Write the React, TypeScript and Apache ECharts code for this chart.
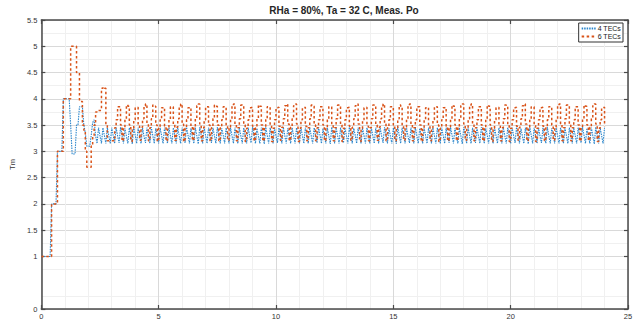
import React, { useEffect, useRef } from "react";
import * as echarts from "echarts";

// ---- data ----
const chartTitle = "RHa = 80%, Ta = 32 C, Meas. Po";
const yAxisName = "Tm";
const seriesNames = ["4 TECs", "6 TECs"];
const xTicks = [0, 5, 10, 15, 20, 25];
const yTicks = [0, 1, 1.5, 2, 2.5, 3, 3.5, 4, 4.5, 5, 5.5];
const sampleStep = 0.0625; // time between samples

// 4 TECs: start-up (t = 0 .. 2.3125)
const tec4Transient = [
  1, 1, 1, 1, 1, 1, 1, 2, 2, 2, 2, 3, 3, 3, 3, 4,
  4, 4, 4, 4, 3.5, 2.95, 2.95, 2.95, 3.5, 3.5, 3.85, 3.85, 3.85, 3.5, 3.35, 3.1,
  3.1, 3.1, 3.3, 3.55, 3.6, 3.3,
];
// 4 TECs: steady oscillation (from t = 2.375)
const tec4Oscillation = [
  3.15, 3.45, 3.3, 3.15, 3.45, 3.3, 3.15, 3.45, 3.3, 3.15, 3.45, 3.3, 3.15, 3.45, 3.3,
  3.16, 3.46, 3.31, 3.15, 3.44, 3.29, 3.15, 3.45, 3.3, 3.14, 3.46, 3.31, 3.15, 3.45, 3.3,
  3.15, 3.45, 3.29, 3.16, 3.45, 3.3, 3.15, 3.46, 3.3, 3.15, 3.44, 3.31, 3.15, 3.45, 3.3,
  3.15, 3.45, 3.3, 3.15, 3.45, 3.3, 3.15, 3.45, 3.3, 3.15, 3.45, 3.3, 3.15, 3.45, 3.3,
  3.16, 3.46, 3.31, 3.15, 3.44, 3.29, 3.15, 3.45, 3.3, 3.14, 3.46, 3.31, 3.15, 3.45, 3.3,
  3.15, 3.45, 3.29, 3.16, 3.45, 3.3, 3.15, 3.46, 3.3, 3.15, 3.44, 3.31, 3.15, 3.45, 3.3,
  3.15, 3.45, 3.3, 3.15, 3.45, 3.3, 3.15, 3.45, 3.3, 3.15, 3.45, 3.3, 3.15, 3.45, 3.3,
  3.16, 3.46, 3.31, 3.15, 3.44, 3.29, 3.15, 3.45, 3.3, 3.14, 3.46, 3.31, 3.15, 3.45, 3.3,
  3.15, 3.45, 3.29, 3.16, 3.45, 3.3, 3.15, 3.46, 3.3, 3.15, 3.44, 3.31, 3.15, 3.45, 3.3,
  3.15, 3.45, 3.3, 3.15, 3.45, 3.3, 3.15, 3.45, 3.3, 3.15, 3.45, 3.3, 3.15, 3.45, 3.3,
  3.16, 3.46, 3.31, 3.15, 3.44, 3.29, 3.15, 3.45, 3.3, 3.14, 3.46, 3.31, 3.15, 3.45, 3.3,
  3.15, 3.45, 3.29, 3.16, 3.45, 3.3, 3.15, 3.46, 3.3, 3.15, 3.44, 3.31, 3.15, 3.45, 3.3,
  3.15, 3.45, 3.3, 3.15, 3.45, 3.3, 3.15, 3.45, 3.3, 3.15, 3.45, 3.3, 3.15, 3.45, 3.3,
  3.16, 3.46, 3.31, 3.15, 3.44, 3.29, 3.15, 3.45, 3.3, 3.14, 3.46, 3.31, 3.15, 3.45, 3.3,
  3.15, 3.45, 3.29, 3.16, 3.45, 3.3, 3.15, 3.46, 3.3, 3.15, 3.44, 3.31, 3.15, 3.45, 3.3,
  3.15, 3.45, 3.3, 3.15, 3.45, 3.3, 3.15, 3.45, 3.3, 3.15, 3.45, 3.3, 3.15, 3.45, 3.3,
  3.16, 3.46, 3.31, 3.15, 3.44, 3.29, 3.15, 3.45, 3.3, 3.14, 3.46, 3.31, 3.15, 3.45, 3.3,
  3.15, 3.45, 3.29, 3.16, 3.45, 3.3, 3.15, 3.46, 3.3, 3.15, 3.44, 3.31, 3.15, 3.45, 3.3,
  3.15, 3.45, 3.3, 3.15, 3.45, 3.3, 3.15, 3.45, 3.3, 3.15, 3.45, 3.3, 3.15, 3.45, 3.3,
  3.16, 3.46, 3.31, 3.15, 3.44, 3.29, 3.15, 3.45, 3.3, 3.14, 3.46, 3.31, 3.15, 3.45, 3.3,
  3.15, 3.45, 3.29, 3.16, 3.45, 3.3, 3.15, 3.46, 3.3, 3.15, 3.44, 3.31, 3.15, 3.45, 3.3,
  3.15, 3.45, 3.3, 3.15, 3.45, 3.3, 3.15, 3.45, 3.3, 3.15, 3.45, 3.3, 3.15, 3.45, 3.3,
  3.16, 3.46, 3.31, 3.15, 3.44, 3.29, 3.15, 3.45, 3.3, 3.14, 3.46, 3.31, 3.15, 3.45, 3.3,
  3.15, 3.45,
];

// 6 TECs: start-up (t = 0 .. 3.0)
const tec6Transient = [
  1, 1, 1, 1, 1, 1, 1, 2, 2, 2, 2, 3, 3, 3, 3, 4,
  4, 4, 4, 4, 5, 5, 5, 5, 4.5, 4.5, 3.95, 3.95, 3.5, 3.4, 3.0, 2.7,
  2.7, 2.7, 3.1, 3.3, 3.5, 3.75, 3.78, 3.78, 3.78, 4.2, 4.22, 4.2, 3.5, 3.2, 3.2, 3.2,
  3.2,
];
// 6 TECs: steady oscillation (from t = 3.0625)
const tec6Oscillation = [
  3.2, 3.45, 3.6, 3.85, 3.85, 3.5, 3.2, 3.45, 3.62, 3.88, 3.86, 3.5, 3.19, 3.44, 3.6, 3.83, 3.84, 3.48, 3.21, 3.46, 3.62, 3.87, 3.9, 3.52,
  3.2, 3.45, 3.62, 3.88, 3.86, 3.5, 3.19, 3.44, 3.6, 3.83, 3.84, 3.48, 3.2, 3.45, 3.6, 3.85, 3.85, 3.5, 3.21, 3.46, 3.62, 3.87, 3.9, 3.52,
  3.19, 3.44, 3.6, 3.83, 3.84, 3.48, 3.21, 3.46, 3.62, 3.87, 3.9, 3.52, 3.2, 3.45, 3.6, 3.85, 3.85, 3.5, 3.2, 3.45, 3.62, 3.88, 3.86, 3.5,
  3.2, 3.45, 3.6, 3.85, 3.85, 3.5, 3.21, 3.46, 3.62, 3.87, 3.9, 3.52, 3.2, 3.45, 3.62, 3.88, 3.86, 3.5, 3.19, 3.44, 3.6, 3.83, 3.84, 3.48,
  3.2, 3.45, 3.62, 3.88, 3.86, 3.5, 3.2, 3.45, 3.6, 3.85, 3.85, 3.5, 3.19, 3.44, 3.6, 3.83, 3.84, 3.48, 3.21, 3.46, 3.62, 3.87, 3.9, 3.52,
  3.21, 3.46, 3.62, 3.87, 3.9, 3.52, 3.19, 3.44, 3.6, 3.83, 3.84, 3.48, 3.2, 3.45, 3.62, 3.88, 3.86, 3.5, 3.2, 3.45, 3.6, 3.85, 3.85, 3.5,
  3.2, 3.45, 3.6, 3.85, 3.85, 3.5, 3.2, 3.45, 3.62, 3.88, 3.86, 3.5, 3.19, 3.44, 3.6, 3.83, 3.84, 3.48, 3.21, 3.46, 3.62, 3.87, 3.9, 3.52,
  3.19, 3.44, 3.6, 3.83, 3.84, 3.48, 3.2, 3.45, 3.62, 3.88, 3.86, 3.5, 3.21, 3.46, 3.62, 3.87, 3.9, 3.52, 3.2, 3.45, 3.6, 3.85, 3.85, 3.5,
  3.2, 3.45, 3.62, 3.88, 3.86, 3.5, 3.21, 3.46, 3.62, 3.87, 3.9, 3.52, 3.2, 3.45, 3.6, 3.85, 3.85, 3.5, 3.19, 3.44, 3.6, 3.83, 3.84, 3.48,
  3.2, 3.45, 3.6, 3.85, 3.85, 3.5, 3.19, 3.44, 3.6, 3.83, 3.84, 3.48, 3.2, 3.45, 3.62, 3.88, 3.86, 3.5, 3.21, 3.46, 3.62, 3.87, 3.9, 3.52,
  3.21, 3.46, 3.62, 3.87, 3.9, 3.52, 3.2, 3.45, 3.6, 3.85, 3.85, 3.5, 3.2, 3.45, 3.62, 3.88, 3.86, 3.5, 3.19, 3.44, 3.6, 3.83, 3.84, 3.48,
  3.2, 3.45, 3.62, 3.88, 3.86, 3.5, 3.19, 3.44, 3.6, 3.83, 3.84, 3.48, 3.21, 3.46, 3.62, 3.87, 3.9, 3.52, 3.2, 3.45, 3.6, 3.85, 3.85, 3.5,
  3.19, 3.44, 3.6, 3.83, 3.84, 3.48, 3.2, 3.45, 3.6, 3.85, 3.85, 3.5, 3.21, 3.46, 3.62, 3.87, 3.9, 3.52, 3.2, 3.45, 3.62, 3.88, 3.86, 3.5,
  3.2, 3.45, 3.6, 3.85, 3.85, 3.5, 3.2, 3.45, 3.62, 3.88, 3.86, 3.5, 3.21, 3.46, 3.62, 3.87, 3.9, 3.52, 3.19, 3.44, 3.6, 3.83, 3.84, 3.48,
];

const tec4Values = [...tec4Transient, ...tec4Oscillation];
const tec6Values = [...tec6Transient, ...tec6Oscillation];

const toSamples = (values: number[]) => values.map((v, i) => [i * sampleStep, v]);

const FONT = "'Liberation Sans', Arial, Helvetica, sans-serif";
const AXIS_COLOR = "#4a4a4a";

export default function App() {
  const ref = useRef<HTMLDivElement>(null);

  useEffect(() => {
    if (!ref.current) return;
    const chart = echarts.init(ref.current, null, { renderer: "svg" });

    const commonX = {
      type: "value",
      min: xTicks[0],
      max: xTicks[xTicks.length - 1],
      interval: 5,
    };
    const commonY = {
      type: "value",
      min: 0,
      max: 5.5,
      interval: 0.5,
    };

    chart.setOption({
      animation: false,
      textStyle: { fontFamily: FONT },
      title: {
        text: chartTitle,
        left: 339,
        top: 0,
        textAlign: "center",
        textStyle: { fontSize: 10, fontWeight: "bold", color: "#262626", fontFamily: FONT },
      },
      legend: {
        data: seriesNames,
        orient: "vertical",
        right: 20,
        top: 23,
        backgroundColor: "#ffffff",
        borderColor: "#333333",
        borderWidth: 1,
        borderRadius: 0,
        padding: [2, 2, 2, 2],
        itemGap: 1,
        itemWidth: 15,
        itemHeight: 6,
        itemStyle: { opacity: 0 },
        textStyle: { fontSize: 7, color: "#222", padding: [0, 0, 0, -4], fontFamily: FONT },
      },
      grid: { left: 41, right: 15, top: 20, bottom: 13, containLabel: false },
      xAxis: [
        {
          ...commonX,
          position: "bottom",
          axisLine: { show: true, onZero: false, lineStyle: { color: AXIS_COLOR, width: 1.5 } },
          axisTick: { show: true, inside: true, length: 4, lineStyle: { color: AXIS_COLOR, width: 1.2 } },
          axisLabel: { fontSize: 7.5, color: "#333", margin: 3, customValues: xTicks },
          splitLine: { show: true, lineStyle: { color: "#d9d9d9", width: 1 } },
          minorTick: { show: false, splitNumber: 5 },
          minorSplitLine: { show: true, lineStyle: { color: "#f0f0f0", width: 1 } },
        },
        {
          ...commonX,
          position: "top",
          axisLine: { show: true, onZero: false, lineStyle: { color: AXIS_COLOR, width: 1.5 } },
          axisTick: { show: true, inside: true, length: 4, lineStyle: { color: AXIS_COLOR, width: 1.2 } },
          axisLabel: { show: false },
          splitLine: { show: false },
        },
      ],
      yAxis: [
        {
          ...commonY,
          position: "left",
          name: yAxisName,
          nameLocation: "middle",
          nameGap: 17,
          nameTextStyle: { fontSize: 7.5, color: "#333", fontFamily: FONT },
          axisLine: { show: true, onZero: false, lineStyle: { color: AXIS_COLOR, width: 1.5 } },
          axisTick: { show: true, inside: true, length: 4, customValues: yTicks, lineStyle: { color: AXIS_COLOR, width: 1.2 } },
          axisLabel: { fontSize: 7.5, color: "#333", margin: 4, customValues: yTicks },
          splitLine: { show: true, lineStyle: { color: "#d9d9d9", width: 1 } },
          minorTick: { show: false, splitNumber: 2 },
          minorSplitLine: { show: true, lineStyle: { color: "#f0f0f0", width: 1 } },
        },
        {
          ...commonY,
          position: "right",
          axisLine: { show: true, onZero: false, lineStyle: { color: AXIS_COLOR, width: 1.5 } },
          axisTick: { show: true, inside: true, length: 4, customValues: yTicks, lineStyle: { color: AXIS_COLOR, width: 1.2 } },
          axisLabel: { show: false },
          splitLine: { show: false },
        },
      ],
      series: [
        {
          name: seriesNames[0],
          type: "line",
          xAxisIndex: 0,
          yAxisIndex: 0,
          symbol: "none",
          data: toSamples(tec4Values),
          lineStyle: { color: "#2a86cc", width: 1.1, type: [1.5, 1] },
          itemStyle: { color: "#2a86cc" },
        },
        {
          name: seriesNames[1],
          type: "line",
          xAxisIndex: 0,
          yAxisIndex: 0,
          step: "end",
          symbol: "none",
          data: toSamples(tec6Values),
          lineStyle: { color: "#D95319", width: 1.5, type: [2.5, 2.5] },
          itemStyle: { color: "#D95319" },
        },
      ],
    });

    return () => chart.dispose();
  }, []);

  return (
    <div
      ref={ref}
      style={{ position: "fixed", left: 0, top: 0, width: 643, height: 322, background: "#ffffff" }}
    />
  );
}
